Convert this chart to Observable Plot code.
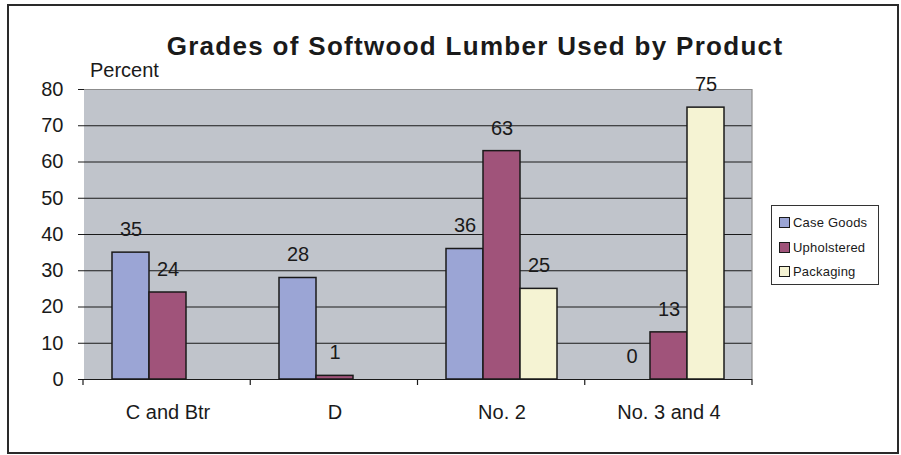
<!DOCTYPE html>
<html>
<head>
<meta charset="utf-8">
<script src="https://cdn.jsdelivr.net/npm/d3@7"></script>
<script src="https://cdn.jsdelivr.net/npm/@observablehq/plot@0.6"></script>
<style>
  html, body { margin: 0; padding: 0; background: #fff; }
  #wrap { position: relative; width: 901px; height: 455px; overflow: hidden;
          font-family: "Liberation Sans", Arial, Helvetica, sans-serif; color: #1a1a1a; }
  #wrap svg { position: absolute; left: 0; top: 0; }
  .border { position: absolute; left: 7px; top: 4px; width: 888px; height: 446px; border: 2px solid #2a2a2a; pointer-events: none; }
  .title { position: absolute; left: 0; width: 950px; top: 33px; text-align: center; font-size: 26px; line-height: 26px;
           font-weight: bold; letter-spacing: 1.3px; white-space: nowrap; }
  .ylabel { position: absolute; left: 90px; top: 60px; font-size: 20px; line-height: 20px; white-space: nowrap; }
  .legend { position: absolute; left: 771px; top: 205px; width: 106px; height: 78px; border: 1px solid #333; background: #fff; }
  .legend .item { position: absolute; left: 7px; height: 14px; font-size: 13px; line-height: 14px; letter-spacing: 0.2px; white-space: nowrap; }
  .legend .sw { display: inline-block; width: 9px; height: 9px; border: 1.5px solid #1a1a1a; vertical-align: -1px; margin-right: 3px; }
</style>
</head>
<body>
<div id="wrap"></div>
<script>
const categories = ["C and Btr", "D", "No. 2", "No. 3 and 4"];
const series = ["Case Goods", "Upholstered", "Packaging"];
const caseGoods = [35, 28, 36, 0];
const upholstered = [24, 1, 63, 13];
const packaging = [null, null, 25, 75];
const yTicks = [0, 10, 20, 30, 40, 50, 60, 70, 80];
const colors = ["#9BA5D5", "#A0537A", "#F5F3D3"];
const titleText = "Grades of Softwood Lumber Used by Product";
const yLabelText = "Percent";

const valuesBySeries = [caseGoods, upholstered, packaging];
const rows = categories.flatMap((c, i) =>
  series.map((s, j) => ({category: c, series: s, value: valuesBySeries[j][i]}))
).filter(d => d.value != null);

const plot = Plot.plot({
  width: 901,
  height: 455,
  marginLeft: 83,
  marginRight: 149,
  marginTop: 89,
  marginBottom: 76,
  style: {background: "transparent", fontFamily: "'Liberation Sans', Arial, sans-serif", fontSize: "20px", color: "#1a1a1a"},
  fx: {domain: categories, padding: 0, label: null, axis: "bottom", tickSize: 0, tickPadding: 25},
  x: {domain: series, paddingInner: 0, paddingOuter: 0.75, axis: null},
  y: {domain: [0, 80], ticks: yTicks, tickSize: 6, tickPadding: 15, label: null, line: true, tickFormat: d => String(d)},
  color: {domain: series, range: colors},
  marks: [
    Plot.rect(categories, {fx: d => d, y1: 0, y2: 80, fill: "#C0C4CB"}),
    Plot.ruleY(yTicks.filter(t => t > 0 && t < 80), {stroke: "#1a1a1a", strokeWidth: 1}),
    Plot.ruleY([80], {stroke: "#8c8c8c", strokeWidth: 1.2}),
    Plot.barY(rows.filter(d => d.value > 0), {fx: "category", x: "series", y: "value", fill: "series", stroke: "#1a1a1a", strokeWidth: 1.5}),
    Plot.text(rows, {fx: "category", x: "series", y: "value", text: d => String(d.value), dy: -23, fontSize: 20, lineAnchor: "middle", fill: "#1a1a1a"}),
    Plot.ruleY([0], {stroke: "#1a1a1a", strokeWidth: 1.2})
  ]
});

const wrap = document.getElementById("wrap");
wrap.appendChild(plot);

// Category boundary ticks and plot-area right edge, derived from Plot's own scales
const fxS = plot.scale("fx");
const yS = plot.scale("y");
const fx = d3.scaleBand().domain(fxS.domain).range(fxS.range).padding(0);
const y = d3.scaleLinear().domain(yS.domain).range(yS.range);
const svg = d3.select(plot);
const bounds = [fx(categories[0]), ...categories.map(c => fx(c) + fx.bandwidth())];
svg.append("g").selectAll("line").data(bounds).join("line")
  .attr("x1", d => d).attr("x2", d => d)
  .attr("y1", y(0)).attr("y2", y(0) + 6)
  .attr("stroke", "#1a1a1a").attr("stroke-width", 1.2);
const right = bounds[bounds.length - 1];
svg.append("line").attr("x1", right).attr("x2", right).attr("y1", y(80)).attr("y2", y(0))
  .attr("stroke", "#8c8c8c").attr("stroke-width", 1.2);

// Frame, title, axis label, legend
const border = document.createElement("div"); border.className = "border"; wrap.appendChild(border);
const title = document.createElement("div"); title.className = "title"; title.textContent = titleText; wrap.appendChild(title);
const yl = document.createElement("div"); yl.className = "ylabel"; yl.textContent = yLabelText; wrap.appendChild(yl);
const legend = document.createElement("div"); legend.className = "legend"; wrap.appendChild(legend);
series.forEach((s, i) => {
  const it = document.createElement("div");
  it.className = "item";
  it.style.top = (10 + i * 24.5) + "px";
  const sw = document.createElement("span"); sw.className = "sw"; sw.style.background = colors[i];
  it.appendChild(sw);
  it.appendChild(document.createTextNode(s));
  legend.appendChild(it);
});
</script>
</body>
</html>
